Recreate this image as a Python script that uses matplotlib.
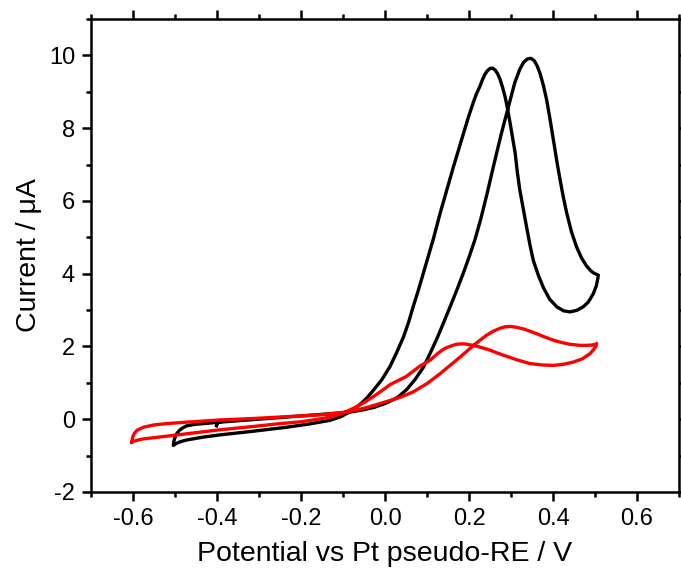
import numpy as np
import matplotlib
matplotlib.use('Agg')
import matplotlib.pyplot as plt
from matplotlib.ticker import MultipleLocator

plt.rcParams['font.family'] = ['Liberation Sans', 'DejaVu Sans']

# black CV (start stub at -0.4, forward, reverse, back to start)
black_e = [-0.401, -0.398, -0.393, -0.314, -0.234, -0.155, -0.110, -0.083, -0.051, -0.025, 0.004,
           0.030, 0.052, 0.072, 0.091, 0.107, 0.123, 0.139, 0.155, 0.171, 0.186, 0.200, 0.214,
           0.228, 0.243, 0.258, 0.277, 0.294, 0.309, 0.321, 0.330, 0.339, 0.347, 0.355, 0.362, 0.369,
           0.377, 0.385, 0.393, 0.401, 0.409, 0.417, 0.425, 0.433, 0.444, 0.456, 0.468, 0.480,
           0.490, 0.498, 0.504, 0.508,
           0.506, 0.503, 0.496, 0.484, 0.472, 0.456, 0.440, 0.425, 0.409, 0.392, 0.377, 0.365,
           0.353, 0.345, 0.337, 0.329, 0.321, 0.315, 0.310, 0.304, 0.298, 0.292, 0.286, 0.280,
           0.274, 0.268, 0.262, 0.256, 0.250, 0.244, 0.238, 0.232, 0.226, 0.218, 0.210, 0.198,
           0.186, 0.175, 0.163, 0.147, 0.131, 0.115, 0.103, 0.091, 0.079, 0.067, 0.056, 0.044,
           0.028, 0.012, -0.008, -0.028, -0.042, -0.055, -0.069, -0.083, -0.105, -0.131,
           -0.180, -0.234, -0.314, -0.393, -0.432, -0.472, -0.488, -0.498, -0.504,
           -0.503, -0.500, -0.496, -0.490, -0.482, -0.472, -0.452, -0.432, -0.410, -0.393]
black_i = [-0.18, -0.09, -0.08, -0.01, 0.06, 0.13, 0.17, 0.20, 0.26, 0.33, 0.45,
           0.60, 0.82, 1.10, 1.42, 1.80, 2.20, 2.64, 3.09, 3.55, 4.00, 4.45, 4.93,
           5.50, 6.20, 6.94, 7.85, 8.59, 9.25, 9.62, 9.81, 9.90, 9.92, 9.86, 9.72, 9.51,
           9.18, 8.77, 8.24, 7.67, 7.10, 6.57, 6.08, 5.65, 5.15, 4.74, 4.43, 4.21,
           4.08, 4.01, 3.98, 3.96,
           3.82, 3.66, 3.45, 3.22, 3.09, 2.99, 2.95, 2.98, 3.09, 3.30, 3.62, 3.96,
           4.37, 4.80, 5.29, 5.80, 6.30, 6.80, 7.31, 7.72, 8.13, 8.52, 8.86, 9.12,
           9.34, 9.50, 9.60, 9.65, 9.64, 9.58, 9.48, 9.33, 9.15, 8.95, 8.70, 8.28,
           7.82, 7.40, 6.94, 6.30, 5.65, 4.95, 4.48, 4.00, 3.53, 3.09, 2.66, 2.26,
           1.84, 1.45, 1.08, 0.79, 0.60, 0.45, 0.32, 0.21, 0.07, -0.03,
           -0.13, -0.22, -0.33, -0.43, -0.49, -0.57, -0.62, -0.67, -0.72,
           -0.62, -0.50, -0.40, -0.31, -0.24, -0.18, -0.14, -0.12, -0.10, -0.08]

# red CV
red_e = [-0.603, -0.601, -0.597, -0.590, -0.575, -0.552, -0.520, -0.472, -0.393, -0.314, -0.250,
         -0.155, -0.090, -0.050, -0.012, 0.036, 0.067, 0.100, 0.131, 0.155, 0.179, 0.195,
         0.210, 0.226, 0.242, 0.258, 0.274, 0.286, 0.298, 0.312, 0.330, 0.345, 0.361, 0.376,
         0.390, 0.404, 0.417, 0.440, 0.464, 0.480, 0.494, 0.501, 0.504,
         0.502, 0.497, 0.488, 0.470, 0.448, 0.425, 0.401, 0.375, 0.345, 0.315, 0.282, 0.265,
         0.250, 0.230, 0.210, 0.200, 0.190, 0.180, 0.170, 0.159, 0.147, 0.136, 0.125, 0.116,
         0.107, 0.095, 0.083, 0.066, 0.050, 0.031, 0.012, -0.008, -0.028, -0.051,
         -0.070, -0.090, -0.110, -0.130, -0.165, -0.200, -0.250, -0.314, -0.393, -0.472,
         -0.552, -0.575, -0.591, -0.599, -0.603]
red_i = [-0.63, -0.50, -0.39, -0.30, -0.22, -0.16, -0.12, -0.08, -0.02, 0.02, 0.06,
         0.12, 0.20, 0.30, 0.43, 0.60, 0.75, 0.98, 1.25, 1.48, 1.71, 1.87,
         2.02, 2.17, 2.31, 2.42, 2.50, 2.54, 2.55, 2.53, 2.48, 2.42, 2.35, 2.28,
         2.22, 2.16, 2.12, 2.06, 2.03, 2.03, 2.04, 2.06, 2.08,
         2.00, 1.92, 1.80, 1.66, 1.57, 1.51, 1.48, 1.49, 1.53, 1.63, 1.76, 1.83,
         1.90, 1.97, 2.03, 2.05, 2.07, 2.07, 2.06, 2.02, 1.97, 1.90, 1.80, 1.71,
         1.62, 1.54, 1.46, 1.31, 1.17, 1.06, 0.95, 0.78, 0.62, 0.45,
         0.33, 0.22, 0.13, 0.06, -0.01, -0.07, -0.12, -0.20, -0.29, -0.40,
         -0.51, -0.54, -0.58, -0.61, -0.63]

fig = plt.figure(figsize=(6.81, 5.76), dpi=100)
ax = fig.add_axes([91/681, 1-492/576, 588/681, 473/576])

ax.plot(black_e, black_i, color='black', lw=2.4, solid_joinstyle='round')
ax.plot(red_e, red_i, color='red', lw=2.4, solid_joinstyle='round')

ax.set_xlim(-0.7, 0.7)
ax.set_ylim(-2, 11)
ax.xaxis.set_minor_locator(MultipleLocator(0.1))
ax.yaxis.set_minor_locator(MultipleLocator(1))
ax.set_xticks(np.arange(-0.6, 0.61, 0.2))
ax.set_xticklabels(['-0.6', '-0.4', '-0.2', '0.0', '0.2', '0.4', '0.6'])
ax.set_yticks(np.arange(-2, 10.1, 2))
ax.set_yticklabels(['-2', '0', '2', '4', '6', '8', '10'])

ax.tick_params(which='both', direction='out', top=True, right=True, width=1.8, labelsize=17, pad=5)
ax.tick_params(which='major', length=6.5)
ax.tick_params(which='minor', length=3.5)
for s in ax.spines.values():
    s.set_linewidth(1.8)

ax.set_xlabel('Potential vs Pt pseudo-RE / V', fontsize=20.5, labelpad=8)
ax.set_ylabel('Current / \u03bcA', fontsize=20.5, labelpad=5)

plt.savefig('out.png', dpi=100)
